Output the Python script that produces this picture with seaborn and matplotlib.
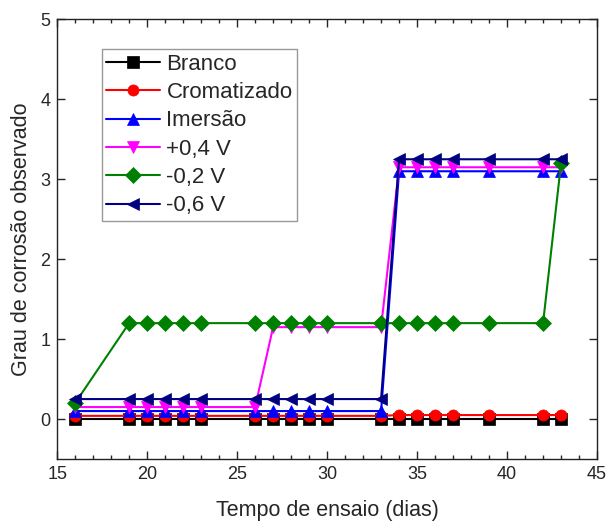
import pandas as pd
import matplotlib.pyplot as plt
import seaborn as sns
from matplotlib.ticker import MultipleLocator

# Dias de ensaio
dias = [16, 19, 20, 21, 22, 23, 26, 27, 28, 29, 30, 33, 34, 35, 36, 37, 39, 42, 43]

branco = [0] * 19
cromatizado = [0.04] * 12 + [0.05] * 7
imersao = [0.1] * 12 + [3.1] * 7
mais_04 = [0.15] * 7 + [1.15] * 5 + [3.15] * 7
menos_02 = [0.2] + [1.2] * 17 + [3.2]
menos_06 = [0.25] * 12 + [3.25] * 7

series = ['Branco', 'Cromatizado', 'Imersão', '+0,4 V', '-0,2 V', '-0,6 V']
valores = [branco, cromatizado, imersao, mais_04, menos_02, menos_06]
cores = ['black', 'red', 'blue', 'magenta', 'green', 'navy']
marcadores = ['s', 'o', '^', 'v', 'D', '<']

df = pd.concat([
    pd.DataFrame({'dias': dias, 'grau': v, 'amostra': nome})
    for nome, v in zip(series, valores)
])

sns.set_style('ticks')
plt.rcParams['font.family'] = ['Liberation Sans', 'DejaVu Sans']

fig = plt.figure(figsize=(6.08, 5.24), dpi=100)
ax = fig.add_axes([0.094, 0.124, 0.888, 0.839])

sns.lineplot(data=df, x='dias', y='grau', hue='amostra', style='amostra',
             hue_order=series, style_order=series, palette=cores,
             markers=marcadores, dashes=False, markersize=8,
             markeredgewidth=0.5, linewidth=1.5, ax=ax)

# bordas dos marcadores com a mesma cor da linha
for ln in ax.lines:
    ln.set_markeredgecolor(ln.get_color())

ax.set_xlim(15, 45)
ax.set_ylim(-0.5, 5)
ax.xaxis.set_major_locator(MultipleLocator(5))
ax.xaxis.set_minor_locator(MultipleLocator(1))
ax.yaxis.set_major_locator(MultipleLocator(1))
ax.tick_params(which='both', direction='in', top=True, right=True, labelsize=13)
ax.tick_params(which='major', length=6, width=1, pad=5)
ax.tick_params(which='minor', length=3, width=1)
for s in ax.spines.values():
    s.set_linewidth(1)
    s.set_color('#222222')

ax.set_xlabel('Tempo de ensaio (dias)', fontsize=15.5, labelpad=12)
ax.set_ylabel('Grau de corrosão observado', fontsize=15.5, labelpad=6)

leg = ax.legend(loc='upper left', bbox_to_anchor=(0.083, 0.932), fontsize=16,
                frameon=True, fancybox=False, handlelength=2.4,
                handletextpad=0.3, borderpad=0.2, borderaxespad=0,
                labelspacing=0.33)
leg.get_frame().set_edgecolor('gray')
leg.get_frame().set_linewidth(1)
for h in leg.legend_handles:
    h.set_markeredgecolor(h.get_color())

plt.savefig('out.png', dpi=100)
